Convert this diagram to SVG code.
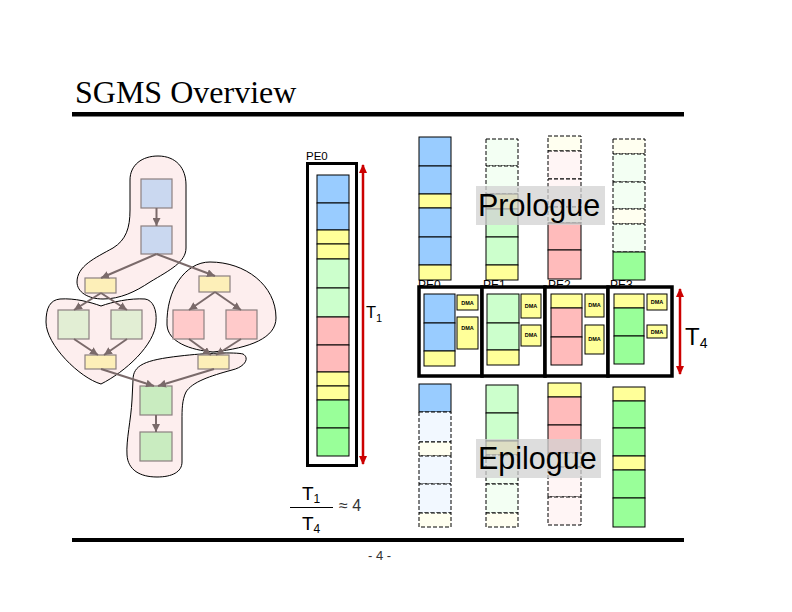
<svg xmlns="http://www.w3.org/2000/svg" width="792" height="612" viewBox="0 0 792 612">
<defs>
<style>
.t{font-family:"Liberation Sans",Arial,sans-serif}
.nd{stroke:#8c8080;stroke-width:1.2}
.e{stroke:#7a6a6a;stroke-width:2;fill:none;marker-end:url(#ah)}
.cl{fill:#fdeeee;stroke:#000;stroke-width:1}
.c{stroke:#000;stroke-width:1}
.d{stroke:#000;stroke-width:1;stroke-dasharray:4 2}
.B{fill:#99ccff}.Y{fill:#ffff99}.LG{fill:#ccffcc}.R{fill:#ffbbbb}.G{fill:#99ff99}
.fB{fill:#f2f8ff}.fY{fill:#fffff0}.fG{fill:#f3fff3}.fR{fill:#fff5f5}
.nB{fill:#cad8f0}.nY{fill:#fdefb8}.nLG{fill:#e2eed4}.nR{fill:#ffcaca}.nG{fill:#c9ecc0}
.box{fill:#fff;stroke:#000;stroke-width:3.5}
.dma{fill:#ffff99;stroke:#000;stroke-width:1}
.dt{font-family:"Liberation Sans",Arial,sans-serif;font-size:5.5px;font-weight:bold;text-anchor:middle}
.red{stroke:#cc0000;stroke-width:2.5;fill:none;marker-start:url(#ra);marker-end:url(#ra)}
.lbl{fill:#d2d2d2;fill-opacity:0.75}
</style>
<marker id="ah" markerUnits="userSpaceOnUse" markerWidth="8" markerHeight="8" refX="8" refY="4" orient="auto">
<path d="M0,0 L8,4 L0,8 Z" fill="#7a6a6a"/>
</marker>
<marker id="ra" markerUnits="userSpaceOnUse" markerWidth="9" markerHeight="8" refX="8" refY="4" orient="auto-start-reverse">
<path d="M0,0 L9,4 L0,8 Z" fill="#cc0000"/>
</marker>
</defs>
<rect width="792" height="612" fill="#fff"/>

<g id="title">
<text x="75" y="103" font-family="Liberation Serif,Times New Roman,serif" font-size="32">SGMS Overview</text>
<rect x="72" y="112" width="612" height="4.5" fill="#000"/>
<rect x="72" y="538" width="612" height="4" fill="#000"/>
<text class="t" x="368" y="560" font-size="13" fill="#333">- 4 -</text>
</g>

<g id="clusters">
<path id="cluster1" class="cl" d="M158,156 C176,156 186,168 186,185 L186,248 C186,262 170,270 150,282 C135,292 120,299 103,299 C88,299 77,292 77,282 C77,266 95,258 113,248 C126,240 130,228 130,210 L130,180 C130,165 142,156 158,156 Z"/>
<path id="cluster2" class="cl" d="M60,299 C75,298 90,302 101,306 C112,302 130,298 145,299 C153,300 157,310 156,322 C155,345 125,372 101,384 C80,378 46,345 46,322 C46,308 50,300 60,299 Z"/>
<path id="cluster3" class="cl" d="M210,262 C245,262 276,285 276,318 C276,338 250,348 213,352 C190,350 168,342 167,325 C166,290 185,262 210,262 Z"/>
<path id="cluster4" class="cl" d="M133,380 C133,365 145,360 180,356 C205,353 235,352 243,354 C250,358 245,367 232,370 C210,376 192,382 186,392 C182,400 182,410 182,420 L182,462 C182,472 172,477 157,477 C140,477 128,470 127,455 C126,440 131,420 132,400 Z"/>
</g>

<g id="graph-nodes">
<g id="n-b1"><rect class="nd nB" x="141" y="179" width="31" height="29"/></g>
<g id="n-b2"><rect class="nd nB" x="141" y="226" width="31" height="28"/></g>
<g id="n-yl1"><rect class="nd nY" x="85" y="278" width="31" height="15"/></g>
<g id="n-yr1"><rect class="nd nY" x="199" y="276" width="31" height="16"/></g>
<g id="n-g1"><rect class="nd nLG" x="58" y="310" width="31" height="29"/></g>
<g id="n-g2"><rect class="nd nLG" x="111" y="310" width="31" height="29"/></g>
<g id="n-r1"><rect class="nd nR" x="173" y="310" width="31" height="29"/></g>
<g id="n-r2"><rect class="nd nR" x="226" y="310" width="31" height="29"/></g>
<g id="n-yl2"><rect class="nd nY" x="85" y="355" width="31" height="14"/></g>
<g id="n-yr2"><rect class="nd nY" x="198" y="355" width="31" height="14"/></g>
<g id="n-gl1"><rect class="nd nG" x="140" y="386" width="32" height="29"/></g>
<g id="n-gl2"><rect class="nd nG" x="140" y="432" width="32" height="29"/></g>
</g>

<g id="connectors">
<line class="e" x1="156.5" y1="208" x2="156.5" y2="226"/>
<line class="e" x1="156.5" y1="254" x2="101" y2="278"/>
<line class="e" x1="156.5" y1="254" x2="215" y2="276"/>
<line class="e" x1="101" y1="293" x2="74" y2="310"/>
<line class="e" x1="101" y1="293" x2="127" y2="310"/>
<line class="e" x1="215" y1="292" x2="189" y2="310"/>
<line class="e" x1="215" y1="292" x2="241" y2="310"/>
<line class="e" x1="74" y1="339" x2="98" y2="355"/>
<line class="e" x1="127" y1="339" x2="104" y2="355"/>
<line class="e" x1="189" y1="339" x2="211" y2="355"/>
<line class="e" x1="241" y1="339" x2="216" y2="355"/>
<line class="e" x1="101" y1="369" x2="154" y2="386"/>
<line class="e" x1="214" y1="369" x2="158" y2="386"/>
<line class="e" x1="156" y1="415" x2="156" y2="432"/>
</g>

<g id="pe0-single">
<text class="t" x="306" y="160" font-size="11.5">PE0</text>
<rect x="307.5" y="163.5" width="49" height="302" fill="#fff" stroke="#000" stroke-width="3"/>
<rect class="c B" x="317" y="175" width="32" height="28"/>
<rect class="c B" x="317" y="203" width="32" height="27"/>
<rect class="c Y" x="317" y="230" width="32" height="14"/>
<rect class="c Y" x="317" y="244" width="32" height="15"/>
<rect class="c LG" x="317" y="259" width="32" height="29"/>
<rect class="c LG" x="317" y="288" width="32" height="29"/>
<rect class="c R" x="317" y="317" width="32" height="28"/>
<rect class="c R" x="317" y="345" width="32" height="27"/>
<rect class="c Y" x="317" y="372" width="32" height="14"/>
<rect class="c Y" x="317" y="386" width="32" height="14"/>
<rect class="c G" x="317" y="400" width="32" height="28"/>
<rect class="c G" x="317" y="428" width="32" height="28"/>
<line class="red" x1="363" y1="165" x2="363" y2="464"/>
<text class="t" x="366" y="318" font-size="16.5">T<tspan font-size="11" dy="4">1</tspan></text>
</g>

<g id="prologue">
<rect class="c B" x="419" y="137" width="32" height="29"/>
<rect class="c B" x="419" y="166" width="32" height="28"/>
<rect class="c Y" x="419" y="194" width="32" height="14"/>
<rect class="c B" x="419" y="208" width="32" height="29"/>
<rect class="c B" x="419" y="237" width="32" height="28"/>
<rect class="c Y" x="419" y="265" width="32" height="15"/>

<rect class="d fG" x="486" y="139" width="32" height="27"/>
<rect class="d fG" x="486" y="166" width="32" height="28"/>
<rect class="c Y" x="486" y="194" width="32" height="15"/>
<rect class="c LG" x="486" y="209" width="32" height="28"/>
<rect class="c LG" x="486" y="237" width="32" height="28"/>
<rect class="c Y" x="486" y="265" width="32" height="15"/>

<rect class="d fY" x="548" y="136" width="33" height="15"/>
<rect class="d fR" x="548" y="151" width="33" height="28"/>
<rect class="d fR" x="548" y="179" width="33" height="28"/>
<rect class="d fY" x="548" y="207" width="33" height="16"/>
<rect class="c R" x="548" y="223" width="33" height="27"/>
<rect class="c R" x="548" y="250" width="33" height="29"/>

<rect class="d fY" x="613" y="139" width="32" height="15"/>
<rect class="d fG" x="613" y="154" width="32" height="28"/>
<rect class="d fG" x="613" y="182" width="32" height="27"/>
<rect class="d fY" x="613" y="209" width="32" height="15"/>
<rect class="d fG" x="613" y="224" width="32" height="28"/>
<rect class="c G" x="613" y="252" width="32" height="28"/>

<rect class="lbl" x="476" y="186" width="129" height="39"/>
<text class="t" x="478" y="216" font-size="30.5">Prologue</text>
</g>

<g id="pe-labels">
<text class="t" x="418" y="289" font-size="12">PE0</text>
<text class="t" x="483" y="289" font-size="12">PE1</text>
<text class="t" x="548" y="289" font-size="12">PE2</text>
<text class="t" x="610" y="289" font-size="12">PE3</text>
</g>

<g id="kernel">
<g id="k-pe0">
<rect class="box" x="419" y="287" width="63" height="89"/>
<rect class="c B" x="424" y="294" width="31" height="29"/>
<rect class="c B" x="424" y="323" width="31" height="28"/>
<rect class="c Y" x="424" y="351" width="31" height="15"/>
<rect class="dma" x="457" y="295" width="21" height="15"/><text class="dt" x="467.5" y="304.5">DMA</text>
<rect class="dma" x="457" y="317" width="21" height="32"/><text class="dt" x="467.5" y="330">DMA</text>
</g>
<g id="k-pe1">
<rect class="box" x="482" y="287" width="63" height="89"/>
<rect class="c LG" x="487" y="294" width="32" height="29"/>
<rect class="c LG" x="487" y="323" width="32" height="27"/>
<rect class="c Y" x="487" y="350" width="32" height="15"/>
<rect class="dma" x="521" y="294" width="20" height="24"/><text class="dt" x="531" y="308">DMA</text>
<rect class="dma" x="521" y="325" width="20" height="21"/><text class="dt" x="531" y="337">DMA</text>
</g>
<g id="k-pe2">
<rect class="box" x="545" y="287" width="63" height="89"/>
<rect class="c Y" x="551" y="294" width="31" height="14"/>
<rect class="c R" x="551" y="308" width="31" height="29"/>
<rect class="c R" x="551" y="337" width="31" height="28"/>
<rect class="dma" x="585" y="294" width="19" height="23"/><text class="dt" x="594.5" y="307">DMA</text>
<rect class="dma" x="585" y="325" width="19" height="29"/><text class="dt" x="594.5" y="341">DMA</text>
</g>
<g id="k-pe3">
<rect class="box" x="608" y="287" width="64" height="89"/>
<rect class="c Y" x="614" y="294" width="30" height="14"/>
<rect class="c G" x="614" y="308" width="30" height="28"/>
<rect class="c G" x="614" y="336" width="30" height="28"/>
<rect class="dma" x="647" y="294" width="20" height="16"/><text class="dt" x="657" y="304">DMA</text>
<rect class="dma" x="647" y="325" width="20" height="13"/><text class="dt" x="657" y="333.5">DMA</text>
</g>
<line class="red" x1="680" y1="289" x2="680" y2="374"/>
<text class="t" x="685" y="345" font-size="24">T<tspan font-size="14" dy="3">4</tspan></text>
</g>

<g id="epilogue">
<rect class="c B" x="419" y="384" width="32" height="28"/>
<rect class="d fB" x="419" y="412" width="32" height="30"/>
<rect class="d fY" x="419" y="442" width="32" height="14"/>
<rect class="d fB" x="419" y="456" width="32" height="28"/>
<rect class="d fB" x="419" y="484" width="32" height="29"/>
<rect class="d fY" x="419" y="513" width="32" height="14"/>

<rect class="c LG" x="486" y="385" width="32" height="28"/>
<rect class="c LG" x="486" y="413" width="32" height="28"/>
<rect class="c Y" x="486" y="441" width="32" height="14"/>
<rect class="d fG" x="486" y="455" width="32" height="29"/>
<rect class="d fG" x="486" y="484" width="32" height="29"/>
<rect class="d fY" x="486" y="513" width="32" height="14"/>

<rect class="c Y" x="548" y="383" width="33" height="14"/>
<rect class="c R" x="548" y="397" width="33" height="28"/>
<rect class="c R" x="548" y="425" width="33" height="28"/>
<rect class="d fY" x="548" y="453" width="33" height="14"/>
<rect class="d fR" x="548" y="467" width="33" height="30"/>
<rect class="d fR" x="548" y="497" width="33" height="28"/>

<rect class="c Y" x="613" y="387" width="32" height="14"/>
<rect class="c G" x="613" y="401" width="32" height="27"/>
<rect class="c G" x="613" y="428" width="32" height="28"/>
<rect class="c Y" x="613" y="456" width="32" height="14"/>
<rect class="c G" x="613" y="470" width="32" height="28"/>
<rect class="c G" x="613" y="498" width="32" height="29"/>

<rect class="lbl" x="476" y="439" width="125" height="39"/>
<text class="t" x="478" y="469" font-size="30.5">Epilogue</text>
</g>

<g id="formula">
<text class="t" x="302" y="500" font-size="19">T<tspan font-size="12" dy="3">1</tspan></text>
<line x1="290" y1="507.5" x2="333" y2="507.5" stroke="#000" stroke-width="1.2"/>
<text class="t" x="302" y="530" font-size="19">T<tspan font-size="12" dy="3">4</tspan></text>
<text class="t" x="339" y="511" font-size="16" fill="#333">≈ 4</text>
</g>
</svg>
